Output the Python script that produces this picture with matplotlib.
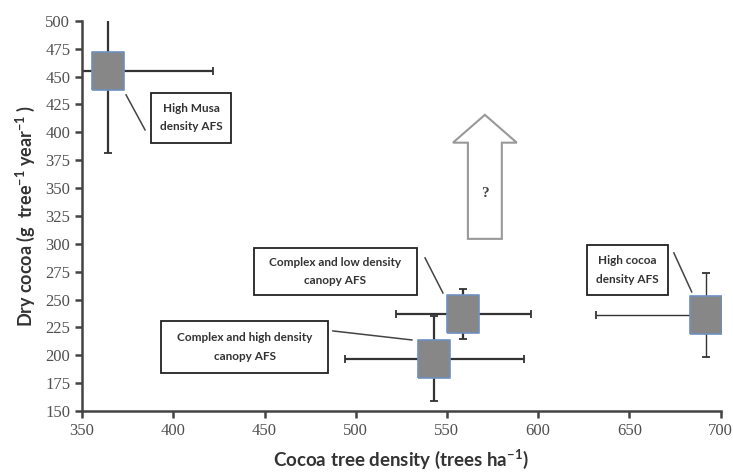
import matplotlib
matplotlib.use("Agg")
import matplotlib.pyplot as plt
from matplotlib.patches import Rectangle, FancyArrow
import numpy as np

# dados
systems = ["High Musa\ndensity AFS", "Complex and low density\ncanopy AFS",
           "Complex and high density\ncanopy AFS", "High cocoa\ndensity AFS"]
density = [364, 559, 543, 692]
density_err = [58, 37, 49, 60]
dry_cocoa = [455, 237, 197, 236]
dry_cocoa_err = [74, 22, 38, 38]

xticks = [350, 400, 450, 500, 550, 600, 650, 700]
yticks = list(range(150, 501, 25))

plt.rcParams['mathtext.fontset'] = 'custom'
plt.rcParams['mathtext.rm'] = 'Lato'
plt.rcParams['mathtext.bf'] = 'Lato:bold'

fig = plt.figure(figsize=(7.33, 4.74), dpi=100)
ax = fig.add_axes([0.112, 0.133, 0.871, 0.823])

# caixa do marcador (um pouco mais alta que larga)
box = [(-0.42, -0.5), (0.42, -0.5), (0.42, 0.5), (-0.42, 0.5), (-0.42, -0.5)]
lws = [1.6, 1.6, 1.6, 1.0]
for i in range(len(systems)):
    ax.errorbar(density[i], dry_cocoa[i], xerr=density_err[i], yerr=dry_cocoa_err[i],
                fmt='none', ecolor='#333333', elinewidth=lws[i], capsize=3, capthick=1.3, zorder=2)
    ax.plot(density[i], dry_cocoa[i], marker=box, markersize=28, color='#878787',
            markeredgecolor='#7090c0', markeredgewidth=1.2, linestyle='none', zorder=3)

# caixas de texto e linhas de ligacao
boxes = [(387.8, 390.5, 43.8, 44.9), (444.2, 254.1, 89.4, 42.2),
         (393.3, 184.1, 91.5, 46.7), (626.7, 254.1, 44.4, 44.9)]
links = [((374.1, 384.5), (433.6, 402.2)), ((538.0, 547.8), (287.3, 255.9)),
         ((487.5, 530.8), (221.8, 213.7)), ((674.4, 684.2), (291.8, 256.8))]
for (bx, by, bw, bh), (lx, ly), name in zip(boxes, links, systems):
    ax.add_patch(Rectangle((bx, by), bw, bh, facecolor='white', edgecolor='#222222',
                           linewidth=1.3, zorder=4, clip_on=False))
    ax.text(bx + bw / 2, by + bh / 2, name, ha='center', va='center', fontsize=8.5,
            family='Lato', weight='bold', color='#333333', linespacing=1.8, zorder=5)
    ax.plot(lx, ly, color='#444444', lw=1.1, zorder=4)

# seta com interrogacao
arrow = FancyArrow(570.8, 304.4, 0, 111.3, width=18.6, head_width=35, head_length=25,
                   length_includes_head=True, facecolor='white', edgecolor='#999999',
                   linewidth=1.5, zorder=4)
ax.add_patch(arrow)
ax.text(570.8, 345, "?", ha='center', va='center', fontsize=11, family='Liberation Serif',
        weight='bold', color='#444444', zorder=5)

ax.set_xlim(350, 700)
ax.set_ylim(150, 500)
ax.set_xticks(xticks)
ax.set_yticks(yticks)
ax.spines['top'].set_visible(False)
ax.spines['right'].set_visible(False)
for s in ['left', 'bottom']:
    ax.spines[s].set_linewidth(1.8)
    ax.spines[s].set_color('#444444')
ax.tick_params(direction='out', length=5, width=1.8, color='#444444',
               labelsize=12, labelcolor='#505050')
for lab in ax.get_xticklabels() + ax.get_yticklabels():
    lab.set_family('Liberation Serif')

ax.set_xlabel("Cocoa tree density (trees ha$^{\\mathbf{-1}}$)", family='Lato', weight='bold',
              fontsize=13.5, color='#333333', labelpad=6)
ax.set_ylabel("Dry cocoa (g  tree$^{\\mathbf{-1}}$ year$^{\\mathbf{-1}}$ )", family='Lato',
              weight='bold', fontsize=13, color='#333333', labelpad=6)

fig.savefig("out.png", dpi=100)
